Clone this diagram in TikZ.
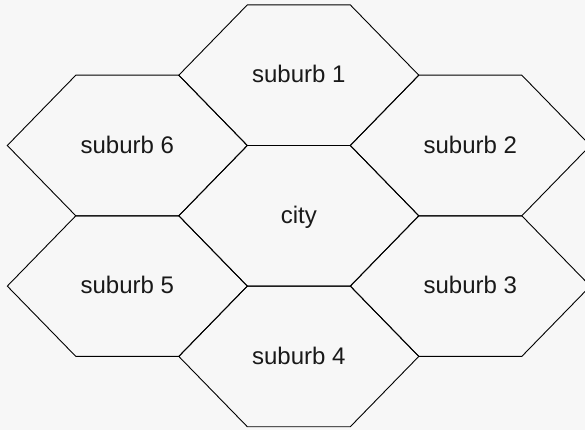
\documentclass[tikz,border=0pt]{standalone}
\usepackage{fontspec}
\setmainfont{Liberation Sans}
\definecolor{bg}{RGB}{247,247,247}
\tikzset{
  hexline/.style={draw=black, line width=0.9pt, line join=miter},
  hexlabel/.style={font=\fontsize{24}{28}\selectfont, text=black!90, anchor=base, inner sep=0pt}
}
\newcommand{\hexcell}[4]{%
  \draw[hexline] (#1-120,#2) -- (#1-51.5,#2-70.3) -- (#1+51.5,#2-70.3) -- (#1+120,#2)
     -- (#1+51.5,#2+70.3) -- (#1-51.5,#2+70.3) -- cycle;
  \node[hexlabel] (#3) at (#1,#2+7.8) {#4};
}
\begin{document}
\begin{tikzpicture}[x=1pt,y=-1pt]
\fill[bg] (0,0) rectangle (585,430);
\useasboundingbox (0,0) rectangle (585,430);
\clip (0,0) rectangle (585,430);
\hexcell{298.8}{215.8}{city}{city}
\hexcell{298.8}{75.2}{s1}{suburb 1}
\hexcell{470.3}{145.5}{s2}{suburb 2}
\hexcell{470.3}{286.1}{s3}{suburb 3}
\hexcell{298.8}{356.4}{s4}{suburb 4}
\hexcell{127.3}{286.1}{s5}{suburb 5}
\hexcell{127.3}{145.5}{s6}{suburb 6}
\end{tikzpicture}
\end{document}
